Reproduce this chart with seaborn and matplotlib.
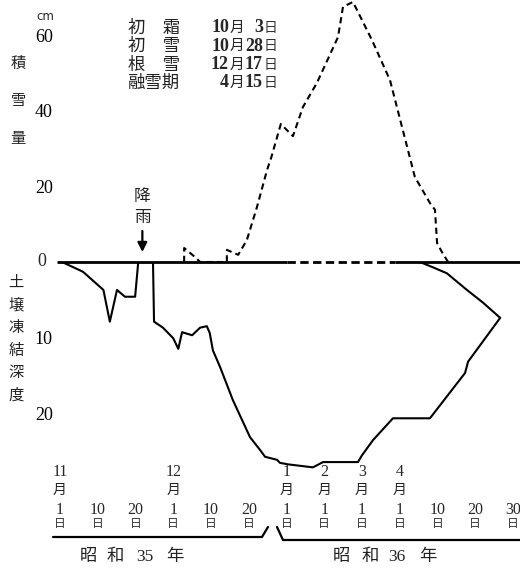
import numpy as np
import pandas as pd
import matplotlib
matplotlib.use("Agg")
import matplotlib.pyplot as plt
from matplotlib.lines import Line2D
import seaborn as sns

# ---- data: days counted from 1 Nov 1960 (昭和35年11月1日) ----
tick_days = [0, 9, 19, 30, 39, 49, 61, 92, 120, 151, 160, 170, 180]
tick_day_labels = ["1", "10", "20", "1", "10", "20", "1", "1", "1", "1", "10", "20", "30"]
month_days = [0, 30, 61, 92, 120, 151]
month_labels = ["11", "12", "1", "2", "3", "4"]

# snow depth (cm)
snow_days = [32.6, 32.6, 35.2, 36.4, 43.2, 43.2, 46.2, 48.5, 51.6, 54.8, 56.1,
             59.2, 66.3, 74.5, 86.0, 102.2, 105.9, 113.3, 128.2, 143.0, 154.6,
             158.2, 159.4, 159.9, 161.2, 162.8]
snow_cm = [0, 3.7, 1.3, 0, 0, 3.2, 1.9, 5.8, 14.5, 24.3, 27.5,
           36.5, 33.3, 41.0, 47.4, 59.5, 67.5, 68.8, 58.7, 48.1, 22.5,
           15.6, 13.8, 5.0, 2.6, 0]

# depth of the frozen soil front (cm)
frost_days = [0.5, 5.5, 10.5, 12.2, 14.1, 16.2, 18.9, 19.8, 24.1, 24.4, 27.0,
              30.0, 31.2, 32.1, 34.5, 36.4, 38.0, 38.7, 39.5, 41.4, 44.8, 49.4,
              52.6, 54.2, 58.0, 58.9, 62.2, 82.7, 91.0, 117.0, 120.0, 129.0,
              145.4, 158.2, 167.3, 168.1, 176.6]
frost_cm = [0, 1.3, 3.7, 7.9, 3.7, 4.6, 4.6, 0, 0, 7.9, 8.7,
            10.1, 11.5, 9.3, 9.7, 8.7, 8.5, 9.4, 11.7, 13.9, 18.3, 23.2,
            24.9, 25.8, 26.2, 26.6, 26.8, 27.2, 26.5, 26.5, 25.6, 23.6,
            20.7, 20.7, 14.7, 13.2, 7.4]

# thawing from the surface downward in spring (cm)
thaw_days = [155.8, 158.9, 162.5, 167.8, 172.1, 176.6]
thaw_cm = [0, 0.7, 1.5, 3.7, 5.4, 7.4]

rain_day = 21

record_names = ["初　霜", "初　雪", "根　雪", "融雪期"]
record_months = ["10", "10", "12", "4"]
record_dates = ["3", "28", "17", "15"]

# ---- styling ----
sns.set_style("white")
plt.rcParams["font.family"] = ["Liberation Serif", "Noto Sans CJK JP"]
JP = ["Noto Sans CJK JP"]

W, H = 520, 568


def fx(px):
    return px / W


def fy(py):
    return 1 - py / H


fig = plt.figure(figsize=(W / 100, H / 100), dpi=100)
ax_snow = fig.add_axes([fx(57), fy(262), (520 - 57) / W, 262 / H])
ax_frost = fig.add_axes([fx(57), fy(470), (520 - 57) / W, 208 / H], sharex=ax_snow)

# piecewise time axis: 10-day steps Nov-Dec, monthly Jan-Mar, 10-day steps in April
knot_days = np.r_[-90.0, tick_days, 270.0]
knot_pos = np.r_[-10.0, np.arange(len(tick_days)), 21.0]


def to_pos(d):
    return np.interp(d, knot_days, knot_pos)


def to_day(p):
    return np.interp(p, knot_pos, knot_days)


for ax in (ax_snow, ax_frost):
    ax.set_xscale("function", functions=(to_pos, to_day))
    for s in ax.spines.values():
        s.set_visible(False)
    ax.set_facecolor("none")

px_per_unit = 37.75
ax_snow.set_xlim(to_day(-3 / px_per_unit), to_day(460 / px_per_unit))
ax_snow.set_ylim(0, 262 / 3.78)
ax_frost.set_ylim(208 / 7.55, 0)

# snow depth (dashed) and frozen soil (solid)
sns.lineplot(x=snow_days, y=snow_cm, sort=False, estimator=None, ax=ax_snow,
             color="black", lw=1.5, linestyle=(0, (3.0, 2.0)))
sns.lineplot(x=frost_days, y=frost_cm, sort=False, estimator=None, ax=ax_frost,
             color="black", lw=1.5)
sns.lineplot(x=thaw_days, y=thaw_cm, sort=False, estimator=None, ax=ax_frost,
             color="black", lw=1.5)

# ground surface line
x0, x1 = ax_frost.get_xlim()
ax_frost.hlines(0, x0, 61, color="black", lw=2.0, clip_on=False)
ax_frost.hlines(0, 61.6, 147, color="black", lw=2.0, linestyles=(0, (3.0, 1.6)), clip_on=False)
ax_frost.hlines(0, 147, x1, color="black", lw=2.0, clip_on=False)

for ax in (ax_snow, ax_frost):
    ax.set_xlabel("")
    ax.set_ylabel("")

# y ticks
ax_snow.set_yticks([20, 40, 60])
ax_frost.set_yticks([10, 20])
for ax in (ax_snow, ax_frost):
    ax.tick_params(axis="y", direction="in", length=7.5, width=1.8, pad=3,
                   labelsize=13, colors="black")
fig.text(fx(42), fy(262), "0", ha="center", va="center", fontsize=13)
fig.text(fx(45), fy(17), "cm", ha="center", va="center", fontsize=8.5,
         family=["DejaVu Sans"])

# x ticks
ax_snow.tick_params(axis="x", length=0, labelbottom=False)
ax_frost.set_xticks(tick_days, tick_day_labels)
ax_frost.tick_params(axis="x", length=0, pad=23, labelsize=11.5)
ax_frost.xaxis.set_minor_locator(matplotlib.ticker.NullLocator())
ax_snow.xaxis.set_minor_locator(matplotlib.ticker.NullLocator())


def yf(py):
    return (470 - py) / 208


xt = ax_frost.get_xaxis_transform()
for d, lab in zip(month_days, month_labels):
    ax_frost.text(d, yf(472), lab, transform=xt, ha="center", va="center",
                  fontsize=11.5, clip_on=False)
    ax_frost.text(d, yf(490), "月", transform=xt, ha="center", va="center",
                  fontsize=10, family=JP, color="#222", clip_on=False)
for d in tick_days:
    ax_frost.text(d, yf(524), "日", transform=xt, ha="center", va="center",
                  fontsize=8.5, family=JP, color="#333", clip_on=False)

# year brackets
fig.add_artist(Line2D([fx(53), fx(262), fx(268)], [fy(537), fy(537), fy(527)],
                      color="black", lw=1.6))
fig.add_artist(Line2D([fx(277), fx(283), fx(520)], [fy(527), fy(540), fy(540)],
                      color="black", lw=1.6))
for ch, cx in zip(["昭", "和", "35", "年"], [88, 115, 145, 175]):
    fig.text(fx(cx), fy(557), ch, ha="center", va="center", fontsize=12.5, color="#222")
for ch, cx in zip(["昭", "和", "36", "年"], [341, 370, 397, 428]):
    fig.text(fx(cx), fy(557), ch, ha="center", va="center", fontsize=12.5, color="#222")

# vertical axis titles
for ch, cy in zip("積雪量", [63, 100, 138]):
    fig.text(fx(18), fy(cy), ch, ha="center", va="center", fontsize=11,
             family=JP, color="#222")
for i, ch in enumerate("土壌凍結深度"):
    fig.text(fx(16), fy(282 + 22.7 * i), ch, ha="center", va="center", fontsize=11,
             family=JP, color="#222")

# rain marker
ax_snow.annotate("", xy=(rain_day, 10 / 3.78), xytext=(rain_day, 31 / 3.78),
                 arrowprops=dict(arrowstyle="-|>,head_length=0.55,head_width=0.28",
                                 color="black", lw=1.6, shrinkA=0, shrinkB=0))
ax_snow.text(rain_day, 55 / 3.78, "降\n雨", ha="center", va="center", fontsize=12,
             family=JP, linespacing=1.3, color="#222")

# key dates
for i, (nm, mo, dy) in enumerate(zip(record_names, record_months, record_dates)):
    y = fy(28 + 18.3 * i)
    fig.text(fx(128), y, nm, ha="left", va="center", fontsize=12.5, family=JP, color="#222")
    fig.text(fx(229), y, mo, ha="right", va="center", fontsize=13,
             fontweight="bold")
    fig.text(fx(237), y, "月", ha="center", va="center", fontsize=10.5, family=JP)
    fig.text(fx(263), y, dy, ha="right", va="center", fontsize=13,
             fontweight="bold")
    fig.text(fx(270.5), y, "日", ha="center", va="center", fontsize=10, family=JP, color="#333")

fig.savefig("out.png", dpi=100)
